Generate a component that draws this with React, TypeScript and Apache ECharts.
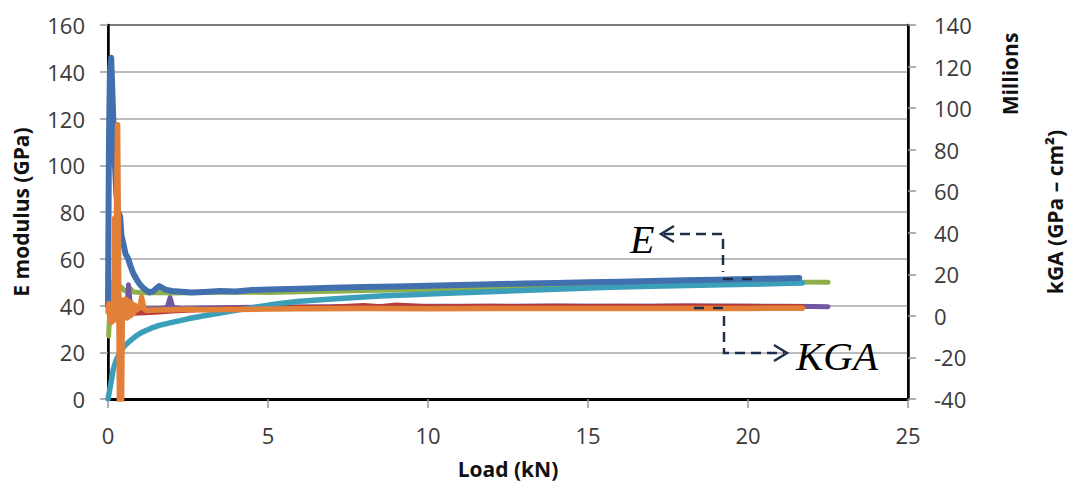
import React, { useEffect, useRef } from "react";
import * as echarts from "echarts";

// ---- Data ----
const xTicks = { min: 0, max: 25, interval: 5 };
const leftTicks = { min: 0, max: 160, interval: 20 };
const rightTicks = { min: -40, max: 140, interval: 20 };

// E modulus series (GPa, left axis)
const blueLoad = [0, 0.03, 0.06, 0.1, 0.14, 0.2, 0.26, 0.32, 0.38, 0.42, 0.47, 0.55, 0.63, 0.7, 0.78, 0.9, 1.0, 1.1, 1.2, 1.3, 1.4, 1.5, 1.6, 1.8, 2.0, 2.3, 2.6, 3.0, 3.5, 4.0, 4.5, 5, 6, 7, 8, 9, 10, 11, 12, 13, 14, 15, 16, 17, 18, 19, 20, 21, 21.6];
const blueE = [40, 110, 140, 146, 130, 105, 88, 80, 78, 70, 67, 62, 60, 57, 54, 51, 49, 47.5, 46.5, 45.6, 46, 47.2, 48.3, 46.8, 46.2, 45.9, 45.6, 45.8, 46.2, 46.0, 46.6, 46.8, 47.2, 47.6, 47.9, 48.1, 48.4, 48.8, 49.1, 49.4, 49.6, 49.9, 50.2, 50.5, 50.8, 51.0, 51.3, 51.6, 51.8];

const greenLoad = [0.02, 0.05, 0.08, 0.11, 0.15, 0.2, 0.25, 0.3, 0.4, 0.5, 0.6, 0.7, 0.8, 1.0, 1.2, 1.5, 2.0, 2.5, 3, 4, 5, 6, 7, 8, 9, 10, 11, 12, 13, 14, 15, 16, 17, 18, 19, 20, 21, 22, 22.5];
const greenE = [27, 36, 50, 44, 48, 46, 49, 46, 48, 46.5, 46.2, 47.2, 45.8, 45.6, 45.5, 45.6, 45.4, 45.5, 45.6, 45.8, 45.6, 45.9, 46.1, 46.4, 46.6, 46.9, 47.1, 47.4, 47.7, 48.0, 48.3, 48.6, 48.8, 49.1, 49.3, 49.6, 49.8, 50.0, 50.0];

const cyanLoad = [0, 0.08, 0.16, 0.25, 0.37, 0.5, 0.7, 0.9, 1.1, 1.35, 1.6, 2.0, 2.5, 3.0, 3.5, 4.0, 4.6, 5.3, 6, 7, 8.5, 9.5, 10.6, 11.5, 12.7, 14, 15.7, 17, 18.5, 20, 21, 21.7];
const cyanE = [0, 6, 12.4, 16.5, 19.7, 22.5, 25, 27.2, 28.8, 30.3, 31.5, 32.8, 34.3, 35.6, 36.8, 37.9, 39.3, 40.8, 41.8, 42.8, 44.1, 44.6, 45.2, 45.7, 46.3, 46.9, 47.8, 48.2, 48.7, 49.1, 49.4, 49.6];

// KGA series (millions GPa-cm2, right axis)
const redLoad = [0.05, 0.2, 0.4, 0.6, 0.8, 1.0, 1.3, 1.6, 2.0, 2.5, 3.0, 3.5, 4, 5, 6, 7, 8, 8.5, 9, 10, 11, 12, 13, 14, 15, 16, 17, 18, 19, 20, 21, 21.7];
const redK = [0.5, 1.0, 1.2, 1.1, 1.3, 1.4, 1.6, 1.9, 2.3, 2.7, 3.1, 3.3, 3.6, 4.0, 4.2, 4.3, 5.0, 4.4, 5.2, 4.4, 4.5, 4.6, 4.5, 4.6, 4.5, 4.6, 4.5, 4.7, 4.6, 4.6, 4.5, 4.5];

const purpleLoad = [0.05, 0.3, 0.5, 0.6, 0.64, 0.7, 0.8, 1.2, 1.6, 1.85, 1.94, 2.03, 2.3, 3, 4, 5, 6, 8, 10, 12, 14, 16, 18, 20, 21, 22, 22.5];
const purpleK = [3, 3.5, 4, 5, 15, 5, 3.6, 3.4, 3.5, 4, 8.8, 4, 3.6, 3.8, 4.0, 4.2, 4.3, 4.5, 4.6, 4.6, 4.7, 4.6, 4.7, 4.6, 4.6, 4.5, 4.4];

const orangeLoad = [0, 0.03, 0.06, 0.09, 0.12, 0.15, 0.18, 0.21, 0.24, 0.27, 0.3, 0.33, 0.36, 0.39, 0.42, 0.45, 0.5, 0.55, 0.6, 0.65, 0.7, 0.75, 0.8, 0.85, 0.9, 1.0, 1.05, 1.12, 1.2, 1.5, 2, 2.5, 3, 4, 5, 6, 8, 10, 12, 14, 16, 18, 20, 21, 21.7];
const orangeK = [2, 6, -2, 5, -3, 6, 0, 47, -2, 60, 92, 30, -50, 8, -50, 6, 4, 8, -1, 7, 0, 6, 1, 5, 3, 4, 9, 3.5, 2.6, 2.8, 3.0, 3.2, 3.0, 3.1, 3.3, 3.4, 3.5, 3.4, 3.6, 3.5, 3.6, 3.5, 3.6, 3.7, 3.7];

const pairs = (xs: number[], ys: number[]) => xs.map((x, i) => [x, ys[i]]);

const labelFont = "Open Sans";
const tickColor = "#3a3a3a";
const titleColor = "#111";
const annot = "#1f2e4a";

export default function App() {
  const ref = useRef<HTMLDivElement>(null);
  useEffect(() => {
    if (!ref.current) return;
    const chart = echarts.init(ref.current, null, { renderer: "svg" });
    const lineSeries = (name: string, data: number[][], color: string, yAxisIndex: number, width: number, z: number) => ({
      name,
      type: "line",
      data,
      yAxisIndex,
      showSymbol: false,
      symbol: "none",
      clip: true,
      z,
      lineStyle: { color, width, cap: "round", join: "round" },
      itemStyle: { color },
    });
    const titleStyle = { fontFamily: labelFont, fontWeight: "bold", fontSize: 21, color: titleColor };
    chart.setOption({
      animation: false,
      backgroundColor: "#ffffff",
      grid: {
        left: 108,
        top: 25,
        width: 800,
        height: 374,
        show: true,
        borderColor: "#000",
        borderWidth: 2,
        outerBoundsMode: "none",
      },
      xAxis: {
        type: "value",
        min: xTicks.min,
        max: xTicks.max,
        interval: xTicks.interval,
        name: "Load (kN)",
        nameLocation: "middle",
        nameGap: 59,
        nameTextStyle: titleStyle,
        axisLine: { show: true, lineStyle: { color: "#000", width: 3 } },
        axisTick: { show: true, length: 9, lineStyle: { color: "#999", width: 1.5 } },
        axisLabel: { margin: 25, fontFamily: labelFont, fontSize: 22, color: tickColor },
        splitLine: { show: false },
      },
      yAxis: [
        {
          type: "value",
          min: leftTicks.min,
          max: leftTicks.max,
          interval: leftTicks.interval,
          name: "E modulus (GPa)",
          nameLocation: "middle",
          nameGap: 77,
          nameRotate: 90,
          nameTextStyle: titleStyle,
          axisLine: { show: true, lineStyle: { color: "#000", width: 2.5 } },
          axisTick: { show: true, length: 8, lineStyle: { color: "#999", width: 1.5 } },
          axisLabel: { margin: 23, fontFamily: labelFont, fontSize: 22, color: tickColor },
          splitLine: { show: true, lineStyle: { color: "#a6a6a6", width: 1.5 } },
        },
        {
          type: "value",
          position: "right",
          min: rightTicks.min,
          max: rightTicks.max,
          interval: rightTicks.interval,
          name: "kGA (GPa – cm²)",
          nameLocation: "middle",
          nameGap: 136,
          nameRotate: 90,
          nameTextStyle: titleStyle,
          axisLine: { show: true, lineStyle: { color: "#000", width: 2.5 } },
          axisTick: { show: true, length: 8, lineStyle: { color: "#999", width: 1.5 } },
          axisLabel: { margin: 26, fontFamily: labelFont, fontSize: 22, color: tickColor },
          splitLine: { show: false },
        },
      ],
      series: [
        lineSeries("E3", pairs(greenLoad, greenE), "#8db04a", 0, 5, 2),
        lineSeries("KGA2", pairs(purpleLoad, purpleK), "#7258a0", 1, 5, 3),
        lineSeries("KGA1", pairs(redLoad, redK), "#b83d3a", 1, 5, 4),
        lineSeries("E2", pairs(cyanLoad, cyanE), "#3c9fba", 0, 5.5, 5),
        lineSeries("E1", pairs(blueLoad, blueE), "#4270af", 0, 6, 6),
        lineSeries("KGA3", pairs(orangeLoad, orangeK), "#e2803a", 1, 5.5, 7),
      ],
      graphic: [
        {
          type: "text",
          x: 1010,
          y: 74,
          rotation: Math.PI / 2,
          style: { text: "Millions", fontFamily: labelFont, fontWeight: "bold", fontSize: 21, fill: titleColor, align: "center", verticalAlign: "middle" },
        },
        {
          type: "text",
          x: 630,
          y: 239,
          z: 100,
          style: { text: "E", fontFamily: "Liberation Serif", fontStyle: "italic", fontSize: 40, fill: "#000", align: "left", verticalAlign: "middle" },
        },
        {
          type: "text",
          x: 796,
          y: 356,
          z: 100,
          style: { text: "KGA", fontFamily: "Liberation Serif", fontStyle: "italic", fontSize: 41, fill: "#000", align: "left", verticalAlign: "middle" },
        },
        {
          type: "polyline",
          z: 100,
          shape: { points: [[664, 234], [723, 234], [723, 272]] },
          style: { stroke: annot, lineWidth: 2.5, lineDash: [10, 6], fill: null },
        },
        {
          type: "polyline",
          z: 100,
          shape: { points: [[724, 316], [724, 353], [784, 353]] },
          style: { stroke: annot, lineWidth: 2.5, lineDash: [10, 6], fill: null },
        },
        {
          type: "polyline",
          z: 100,
          shape: { points: [[674, 226], [661, 234], [674, 242]] },
          style: { stroke: annot, lineWidth: 2.5, fill: null },
        },
        {
          type: "polyline",
          z: 100,
          shape: { points: [[774, 345], [787, 353], [774, 361]] },
          style: { stroke: annot, lineWidth: 2.5, fill: null },
        },
        {
          type: "line",
          z: 100,
          shape: { x1: 723, y1: 279, x2: 752, y2: 279 },
          style: { stroke: annot, lineWidth: 2.5, lineDash: [10, 9] },
        },
        {
          type: "line",
          z: 100,
          shape: { x1: 694, y1: 308, x2: 724, y2: 308 },
          style: { stroke: annot, lineWidth: 2.5, lineDash: [10, 9] },
        },
      ],
    });
    return () => chart.dispose();
  }, []);
  return <div ref={ref} style={{ width: 1070, height: 489, position: "absolute", left: 0, top: 0 }} />;
}
